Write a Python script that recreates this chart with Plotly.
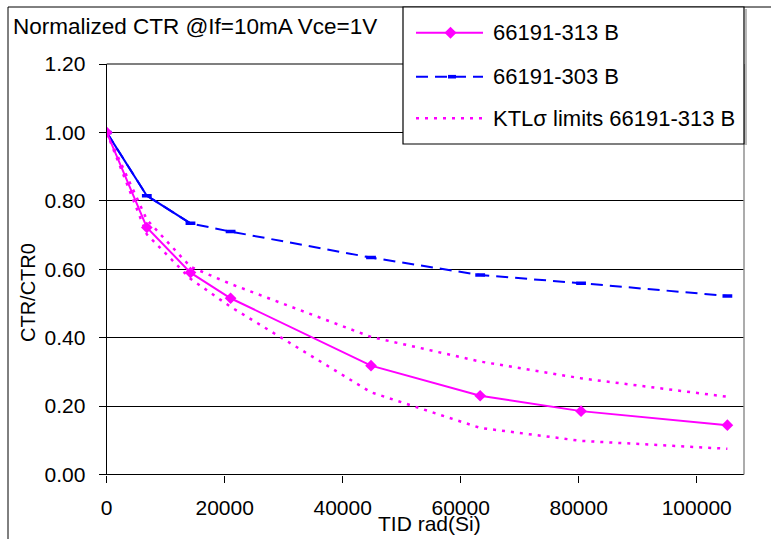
import plotly.graph_objects as go

# Total ionizing dose (rad(Si)) at each measurement step
dose = [0, 6800, 14200, 21000, 44800, 63300, 80400, 105200]

# Normalized CTR (CTR/CTR0) per device
ctr_313 = [1.00, 0.722, 0.590, 0.515, 0.318, 0.230, 0.185, 0.144]
ctr_303 = [1.00, 0.815, 0.734, 0.710, 0.634, 0.583, 0.559, 0.522]

# KTL sigma limits for 66191-313 B
ktl_upper = [1.00, 0.745, 0.607, 0.557, 0.402, 0.330, 0.281, 0.227]
ktl_lower = [1.00, 0.702, 0.572, 0.490, 0.240, 0.136, 0.098, 0.075]

y_ticks = [0.0, 0.2, 0.4, 0.6, 0.8, 1.0, 1.2]
x_ticks = [0, 20000, 40000, 60000, 80000, 100000]

series_names = ["66191-313 B", "66191-303 B", "KTL\u03c3 limits 66191-313 B"]

W, H = 771, 539
FONT = "Liberation Sans, Arial, sans-serif"
MAGENTA = "#FF00FF"
BLUE = "#0000FF"


def px(x):
    return x / W


def py(y):
    return 1 - y / H


# plot area in pixels
L, R, T, B = 106.7, 744.0, 64.0, 474.4

fig = go.Figure()

fig.add_trace(go.Scatter(x=dose, y=ktl_upper, mode="lines",
                         line=dict(color=MAGENTA, width=2.5, dash="3px,6px"),
                         showlegend=False))
fig.add_trace(go.Scatter(x=dose, y=ktl_lower, mode="lines",
                         line=dict(color=MAGENTA, width=2.5, dash="3px,6px"),
                         showlegend=False))
fig.add_trace(go.Scatter(x=dose, y=ctr_303, mode="lines+markers",
                         line=dict(color=BLUE, width=2, dash="12px,7px"),
                         marker=dict(symbol="line-ew", size=7,
                                     line=dict(color=BLUE, width=3.5)),
                         showlegend=False))
# first segments of the 303 curve are drawn solid
fig.add_trace(go.Scatter(x=dose[:3], y=ctr_303[:3], mode="lines",
                         line=dict(color=BLUE, width=2),
                         showlegend=False))
fig.add_trace(go.Scatter(x=dose, y=ctr_313, mode="lines+markers",
                         line=dict(color=MAGENTA, width=2),
                         marker=dict(symbol="diamond", size=9, color=MAGENTA),
                         showlegend=False))

xmax = (R - L) / ((696.7 - L) / 100000)

shapes = []
# outer chart frame (top and left edges)
shapes.append(dict(type="line", xref="paper", yref="paper",
                   x0=px(8), x1=px(771), y0=py(7), y1=py(7),
                   line=dict(color="black", width=1)))
shapes.append(dict(type="line", xref="paper", yref="paper",
                   x0=px(8), x1=px(8), y0=py(7), y1=py(539),
                   line=dict(color="black", width=1)))
# plot area top and right borders
shapes.append(dict(type="line", xref="paper", yref="paper",
                   x0=px(L), x1=px(R), y0=py(T), y1=py(T),
                   line=dict(color="black", width=1.2)))
shapes.append(dict(type="line", xref="paper", yref="paper",
                   x0=px(R), x1=px(R), y0=py(T), y1=py(B),
                   line=dict(color="#909090", width=1.5)))

# legend box
lx0, lx1, ly0, ly1 = 403, 744, 7, 144
shapes.append(dict(type="rect", xref="paper", yref="paper",
                   x0=px(lx0), x1=px(lx1), y0=py(ly1), y1=py(ly0),
                   fillcolor="white", line=dict(color="black", width=1.2)))
shapes.append(dict(type="line", xref="paper", yref="paper",
                   x0=px(746), x1=px(746), y0=py(9), y1=py(145),
                   line=dict(color="#A0A0A0", width=1.5)))

rows = [32.7, 76.7, 118.3]
sx0, sx1 = 416, 483
styles = [dict(color=MAGENTA, width=2),
          dict(color=BLUE, width=2, dash="12px,7px"),
          dict(color=MAGENTA, width=2.5, dash="3px,6px")]
for ry, st in zip(rows, styles):
    shapes.append(dict(type="line", xref="paper", yref="paper",
                       x0=px(sx0), x1=px(sx1), y0=py(ry), y1=py(ry), line=st))

# legend diamond marker
cx, cy, r = 450.5, rows[0], 6
shapes.append(dict(type="path", xref="paper", yref="paper",
                   path=(f"M {px(cx - r)} {py(cy)} L {px(cx)} {py(cy - r)} "
                         f"L {px(cx + r)} {py(cy)} L {px(cx)} {py(cy + r)} Z"),
                   fillcolor=MAGENTA, line=dict(color=MAGENTA, width=0)))
# legend dash marker
shapes.append(dict(type="rect", xref="paper", yref="paper",
                   x0=px(448), x1=px(456), y0=py(rows[1] + 1.8), y1=py(rows[1] - 1.8),
                   fillcolor=BLUE, line=dict(color=BLUE, width=0)))

annotations = []
for ry, name in zip(rows, series_names):
    annotations.append(dict(x=px(491), y=py(ry), xref="paper", yref="paper",
                            text=name, showarrow=False, xanchor="left",
                            yanchor="middle",
                            font=dict(family=FONT, size=22, color="black")))

annotations.append(dict(x=px(11), y=py(27), xref="paper", yref="paper",
                        text="Normalized CTR @If=10mA Vce=1V", showarrow=False,
                        xanchor="left", yanchor="middle",
                        font=dict(family=FONT, size=22.5, color="black")))
annotations.append(dict(x=px(429), y=py(523), xref="paper", yref="paper",
                        text="TID rad(Si)", showarrow=False,
                        xanchor="center", yanchor="middle",
                        font=dict(family=FONT, size=21, color="black")))
annotations.append(dict(x=px(27.5), y=py(292.5), xref="paper", yref="paper",
                        text="CTR/CTR0", showarrow=False, textangle=-90,
                        xanchor="center", yanchor="middle",
                        font=dict(family=FONT, size=20, color="black")))

fig.update_layout(
    template="none",
    width=W, height=H,
    margin=dict(l=0, r=0, t=0, b=0, pad=0),
    paper_bgcolor="white", plot_bgcolor="white",
    showlegend=False,
    shapes=shapes,
    annotations=annotations,
    xaxis=dict(domain=[px(L), px(R)], range=[0, xmax], automargin=False,
               tickmode="array", tickvals=x_ticks,
               ticktext=[str(v) for v in x_ticks],
               ticks="outside", ticklen=7, tickcolor="black", tickwidth=1,
               showline=True, linecolor="black", linewidth=1.2,
               showgrid=False, zeroline=False,
               ticklabelstandoff=7,
               tickfont=dict(family=FONT, size=21, color="black")),
    yaxis=dict(domain=[py(B), py(T)], range=[0, 1.2], automargin=False,
               tickmode="array", tickvals=y_ticks,
               ticktext=[f"{v:.2f}" for v in y_ticks],
               ticks="outside", ticklen=7, tickcolor="black", tickwidth=1,
               showline=True, linecolor="black", linewidth=1.2,
               showgrid=True, gridcolor="black", gridwidth=1.2,
               zeroline=False,
               ticklabelstandoff=9,
               tickfont=dict(family=FONT, size=21, color="black")),
)

fig.write_html("out.html")
